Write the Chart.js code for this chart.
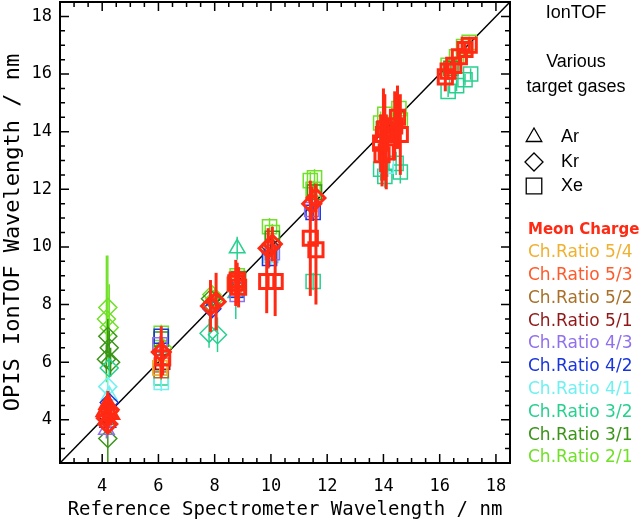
<!DOCTYPE html>
<html>
<head>
<meta charset="utf-8">
<script src="https://cdn.jsdelivr.net/npm/chart.js@4.4.0/dist/chart.umd.min.js"></script>
<style>
  html, body { margin: 0; padding: 0; background: #fff; }
  #wrap { width: 640px; height: 522px; }
</style>
</head>
<body>
<div id="wrap"><canvas id="chart"></canvas></div>
<script>
// axis range and labelled ticks
const axisRange = [2.5, 18.5];
const xTicks = [4, 6, 8, 10, 12, 14, 16, 18];
const yTicks = [4, 6, 8, 10, 12, 14, 16, 18];

// each point: [reference nm, OPIS nm, error half-length, gas]
const meanCharge = [
  [4.15, 4.05, 0.35, "Kr"], [4.25, 4.35, 0.5, "Kr"], [4.2, 4.55, 0.45, "Ar"],
  [4.3, 4.2, 0.4, "Ar"], [4.2, 3.85, 0.3, "Kr"], [4.1, 4.3, 0.4, "Ar"],
  [6.1, 6.35, 0.9, "Kr"], [6.15, 6.15, 0.6, "Xe"],
  [7.85, 7.95, 0.9, "Kr"], [8.05, 8.1, 1.0, "Kr"],
  [8.75, 8.75, 0.8, "Xe"], [8.85, 8.6, 0.7, "Xe"], [8.8, 8.85, 0.6, "Xe"],
  [9.9, 9.95, 0.7, "Kr"], [10.05, 10.1, 0.6, "Kr"], [9.85, 8.8, 1.1, "Xe"], [10.15, 8.8, 1.2, "Xe"],
  [11.45, 11.5, 0.6, "Kr"], [11.6, 11.7, 0.5, "Kr"], [11.4, 10.3, 2.0, "Xe"], [11.6, 9.9, 1.9, "Xe"],
  [13.9, 13.6, 1.0, "Xe"], [14.0, 13.9, 1.6, "Xe"], [14.05, 14.1, 1.2, "Xe"], [14.1, 13.3, 1.3, "Xe"],
  [13.95, 13.2, 1.1, "Xe"], [14.4, 14.2, 1.2, "Xe"], [14.5, 14.5, 1.1, "Xe"], [14.6, 13.9, 1.4, "Xe"],
  [16.2, 15.9, 0.5, "Xe"], [16.3, 16.1, 0.3, "Xe"], [16.5, 16.3, 0.3, "Xe"],
  [16.7, 16.6, 0.3, "Xe"], [16.9, 16.85, 0.2, "Xe"], [17.05, 17.0, 0.2, "Xe"]
];
const ratio54 = [[4.2, 4.4, 0.3, "Ar"], [6.05, 5.8, 0.3, "Xe"], [8.75, 8.8, 0.3, "Xe"]];
const ratio53 = [[4.25, 4.3, 0.3, "Kr"], [6.1, 5.9, 0.3, "Xe"], [8.7, 8.7, 0.3, "Xe"]];
const ratio52 = [[4.2, 4.0, 0.3, "Ar"], [6.1, 5.7, 0.3, "Xe"], [7.9, 8.0, 0.3, "Kr"], [8.8, 8.6, 0.3, "Xe"]];
const ratio51 = [[4.2, 4.1, 0.3, "Kr"], [6.15, 6.0, 0.3, "Xe"], [8.85, 8.6, 0.3, "Xe"], [10.0, 10.0, 0.3, "Kr"]];
const ratio43 = [[4.15, 3.65, 0.3, "Ar"], [6.05, 6.6, 0.3, "Xe"], [8.8, 8.35, 0.3, "Xe"],
  [10.05, 9.8, 0.3, "Xe"], [11.45, 11.3, 0.3, "Xe"]];
const ratio42 = [[4.2, 3.9, 0.3, "Ar"], [4.25, 4.6, 0.3, "Kr"], [6.1, 6.9, 0.3, "Xe"], [7.9, 7.85, 0.3, "Kr"],
  [8.8, 8.5, 0.3, "Xe"], [9.95, 9.6, 0.3, "Xe"], [11.5, 11.2, 0.3, "Xe"]];
const ratio41 = [[4.2, 5.15, 0.3, "Kr"], [4.25, 4.85, 0.3, "Ar"], [6.1, 5.3, 0.3, "Xe"],
  [10.0, 9.7, 0.3, "Xe"], [14.1, 12.8, 0.4, "Xe"]];
const ratio32 = [[4.25, 5.8, 0.3, "Kr"], [6.1, 5.45, 0.3, "Xe"], [7.8, 7.0, 0.5, "Kr"], [8.1, 6.95, 0.6, "Kr"],
  [8.8, 9.95, 0.4, "Ar"], [8.75, 8.4, 0.9, "Ar"], [11.5, 8.8, 0.3, "Xe"],
  [13.9, 12.7, 0.4, "Xe"], [14.05, 12.45, 0.4, "Xe"], [14.45, 12.9, 0.4, "Xe"], [14.6, 12.6, 0.4, "Xe"],
  [16.3, 15.4, 0.2, "Xe"], [16.6, 15.6, 0.2, "Xe"], [16.9, 15.8, 0.2, "Xe"], [17.1, 16.0, 0.2, "Xe"]];
const ratio31 = [[4.2, 6.9, 0.6, "Kr"], [4.25, 6.5, 0.6, "Kr"], [4.15, 6.1, 0.5, "Kr"], [4.3, 6.0, 0.5, "Kr"],
  [4.2, 3.35, 1.2, "Kr"], [6.1, 6.8, 0.3, "Xe"], [7.85, 8.2, 0.3, "Kr"], [8.85, 8.9, 0.3, "Xe"],
  [10.05, 10.3, 0.3, "Xe"], [11.55, 11.9, 0.3, "Xe"], [14.0, 14.1, 0.4, "Xe"], [16.4, 16.2, 0.2, "Xe"]];
const ratio21 = [[4.2, 7.9, 1.8, "Kr"], [4.15, 7.5, 2.2, "Kr"], [4.25, 7.2, 1.5, "Kr"],
  [6.1, 7.0, 0.3, "Xe"], [6.15, 6.5, 0.3, "Kr"], [7.9, 8.35, 0.3, "Kr"], [8.0, 8.2, 0.3, "Kr"],
  [8.8, 9.0, 0.3, "Xe"], [9.95, 10.7, 0.3, "Xe"], [10.05, 10.5, 0.3, "Xe"],
  [11.4, 12.3, 0.3, "Xe"], [11.55, 12.4, 0.3, "Xe"], [11.5, 12.0, 0.3, "Xe"],
  [13.9, 14.3, 0.4, "Xe"], [14.05, 14.6, 0.4, "Xe"], [14.55, 14.8, 0.4, "Xe"], [14.6, 14.4, 0.4, "Xe"],
  [16.3, 16.3, 0.2, "Xe"], [16.6, 16.6, 0.2, "Xe"], [16.85, 16.95, 0.2, "Xe"], [17.05, 17.1, 0.2, "Xe"]];

const seriesNames = ["Meon Charge", "Ch.Ratio 5/4", "Ch.Ratio 5/3", "Ch.Ratio 5/2", "Ch.Ratio 5/1",
  "Ch.Ratio 4/3", "Ch.Ratio 4/2", "Ch.Ratio 4/1", "Ch.Ratio 3/2", "Ch.Ratio 3/1", "Ch.Ratio 2/1"];
const seriesData = [meanCharge, ratio54, ratio53, ratio52, ratio51, ratio43, ratio42, ratio41, ratio32, ratio31, ratio21];
const gases = ["Ar", "Kr", "Xe"];

const colors = ["#ff2a14", "#f0b030", "#ff5a2a", "#a87028", "#901818", "#9070ee",
  "#1834dd", "#70f0f0", "#28d090", "#3a9418", "#70e028"];
const gasStyle = { Ar: "triangle", Kr: "rectRot", Xe: "rect" };
const gasRadius = { Ar: 9, Kr: 9, Xe: 10 };

const datasets = seriesData.map((pts, i) => ({
  label: seriesNames[i],
  data: pts.map(p => ({ x: p[0], y: p[1], err: p[2], gas: p[3] })),
  borderColor: colors[i],
  backgroundColor: "rgba(0,0,0,0)",
  borderWidth: i === 0 ? 3 : 1.5,
  errWidth: i === 0 ? 3 : 1.5,
  pointStyle: c => gasStyle[c.raw.gas],
  pointRadius: c => gasRadius[c.raw.gas],
  pointHoverRadius: c => gasRadius[c.raw.gas],
  showLine: false
}));
datasets.push({
  label: "y = x",
  data: axisRange.map(v => ({ x: v, y: v })),
  showLine: true,
  borderColor: "#000",
  borderWidth: 1.5,
  pointRadius: 0
});

// vertical error bars, drawn just under each dataset's markers
const errorBars = {
  id: "errorBars",
  beforeDatasetDraw(chart, args) {
    const ds = chart.data.datasets[args.index];
    if (!ds.errWidth) return;
    const { ctx, chartArea, scales } = chart;
    ctx.save();
    ctx.beginPath();
    ctx.rect(chartArea.left, chartArea.top, chartArea.right - chartArea.left, chartArea.bottom - chartArea.top);
    ctx.clip();
    ctx.strokeStyle = ds.borderColor;
    ctx.lineWidth = ds.errWidth;
    ds.data.forEach(p => {
      const x = scales.x.getPixelForValue(p.x);
      ctx.beginPath();
      ctx.moveTo(x, scales.y.getPixelForValue(p.y - p.err));
      ctx.lineTo(x, scales.y.getPixelForValue(p.y + p.err));
      ctx.stroke();
    });
    ctx.restore();
  }
};

// box frame with inward ticks on all four sides
const frame = {
  id: "frame",
  afterDraw(chart) {
    const { ctx, chartArea: a, scales } = chart;
    ctx.save();
    ctx.strokeStyle = "#000";
    ctx.lineWidth = 2;
    ctx.strokeRect(a.left, a.top, a.right - a.left, a.bottom - a.top);
    ctx.lineWidth = 1.5;
    ctx.beginPath();
    for (let v = 3; v <= 18; v += 0.5) {
      const len = v % 2 === 0 ? 9 : 5;
      const x = scales.x.getPixelForValue(v);
      const y = scales.y.getPixelForValue(v);
      ctx.moveTo(x, a.bottom); ctx.lineTo(x, a.bottom - len);
      ctx.moveTo(x, a.top); ctx.lineTo(x, a.top + len);
      ctx.moveTo(a.left, y); ctx.lineTo(a.left + len, y);
      ctx.moveTo(a.right, y); ctx.lineTo(a.right - len, y);
    }
    ctx.stroke();
    ctx.restore();
  }
};

// key on the right side
const sideKey = {
  id: "sideKey",
  afterDraw(chart) {
    const ctx = chart.ctx;
    ctx.save();
    ctx.fillStyle = "#000";
    ctx.textBaseline = "middle";
    ctx.textAlign = "center";
    ctx.font = "18px 'Liberation Sans', Arial, sans-serif";
    ctx.fillText("IonTOF", 576, 13);
    ctx.fillText("Various", 576, 62);
    ctx.fillText("target gases", 576, 87);
    ctx.textAlign = "left";
    const rows = [137, 162, 186];
    gases.forEach((g, i) => {
      ctx.fillStyle = "rgba(0,0,0,0)";
      ctx.strokeStyle = "#000";
      ctx.lineWidth = 1.3;
      Chart.helpers.drawPoint(ctx, { pointStyle: gasStyle[g], radius: g === "Xe" ? 11 : 9, borderWidth: 1.3 }, 534, rows[i]);
      ctx.fillStyle = "#000";
      ctx.fillText(g, 561, rows[i]);
    });
    seriesNames.forEach((name, i) => {
      ctx.fillStyle = colors[i];
      ctx.font = i === 0 ? "bold 15px 'DejaVu Sans', sans-serif" : "17px 'DejaVu Sans', sans-serif";
      ctx.fillText(name, 528, 230 + i * 22.8);
    });
    ctx.restore();
  }
};

const monoFont = "'DejaVu Sans Mono', monospace";

new Chart(document.getElementById("chart"), {
  type: "scatter",
  data: { datasets },
  plugins: [errorBars, frame, sideKey],
  options: {
    responsive: true,
    maintainAspectRatio: false,
    animation: false,
    layout: { autoPadding: false, padding: { top: 2, right: 130, left: 0, bottom: 0 } },
    plugins: { legend: { display: false }, tooltip: { enabled: false } },
    scales: {
      x: {
        min: axisRange[0],
        max: axisRange[1],
        afterBuildTicks: s => { s.ticks = xTicks.map(v => ({ value: v })); },
        afterFit: s => { s.height = 59; s.paddingLeft = 0; s.paddingRight = 0; },
        grid: { display: false, drawTicks: false },
        border: { display: false },
        ticks: { color: "#000", padding: 13, maxRotation: 0, font: { family: monoFont, size: 17 } },
        title: { display: true, text: "Reference Spectrometer Wavelength / nm", color: "#000",
          padding: { top: 0, bottom: 1 }, font: { family: monoFont, size: 19 } }
      },
      y: {
        min: axisRange[0],
        max: axisRange[1],
        afterBuildTicks: s => { s.ticks = yTicks.map(v => ({ value: v })); },
        afterFit: s => { s.width = 60; s.paddingTop = 0; s.paddingBottom = 0; },
        grid: { display: false, drawTicks: false },
        border: { display: false },
        ticks: { color: "#000", padding: 8, font: { family: monoFont, size: 17 } },
        title: { display: true, text: "OPIS IonTOF Wavelength / nm", color: "#000",
          padding: { top: 0, bottom: 1 }, font: { family: monoFont, size: 22 } }
      }
    }
  }
});
</script>
</body>
</html>
